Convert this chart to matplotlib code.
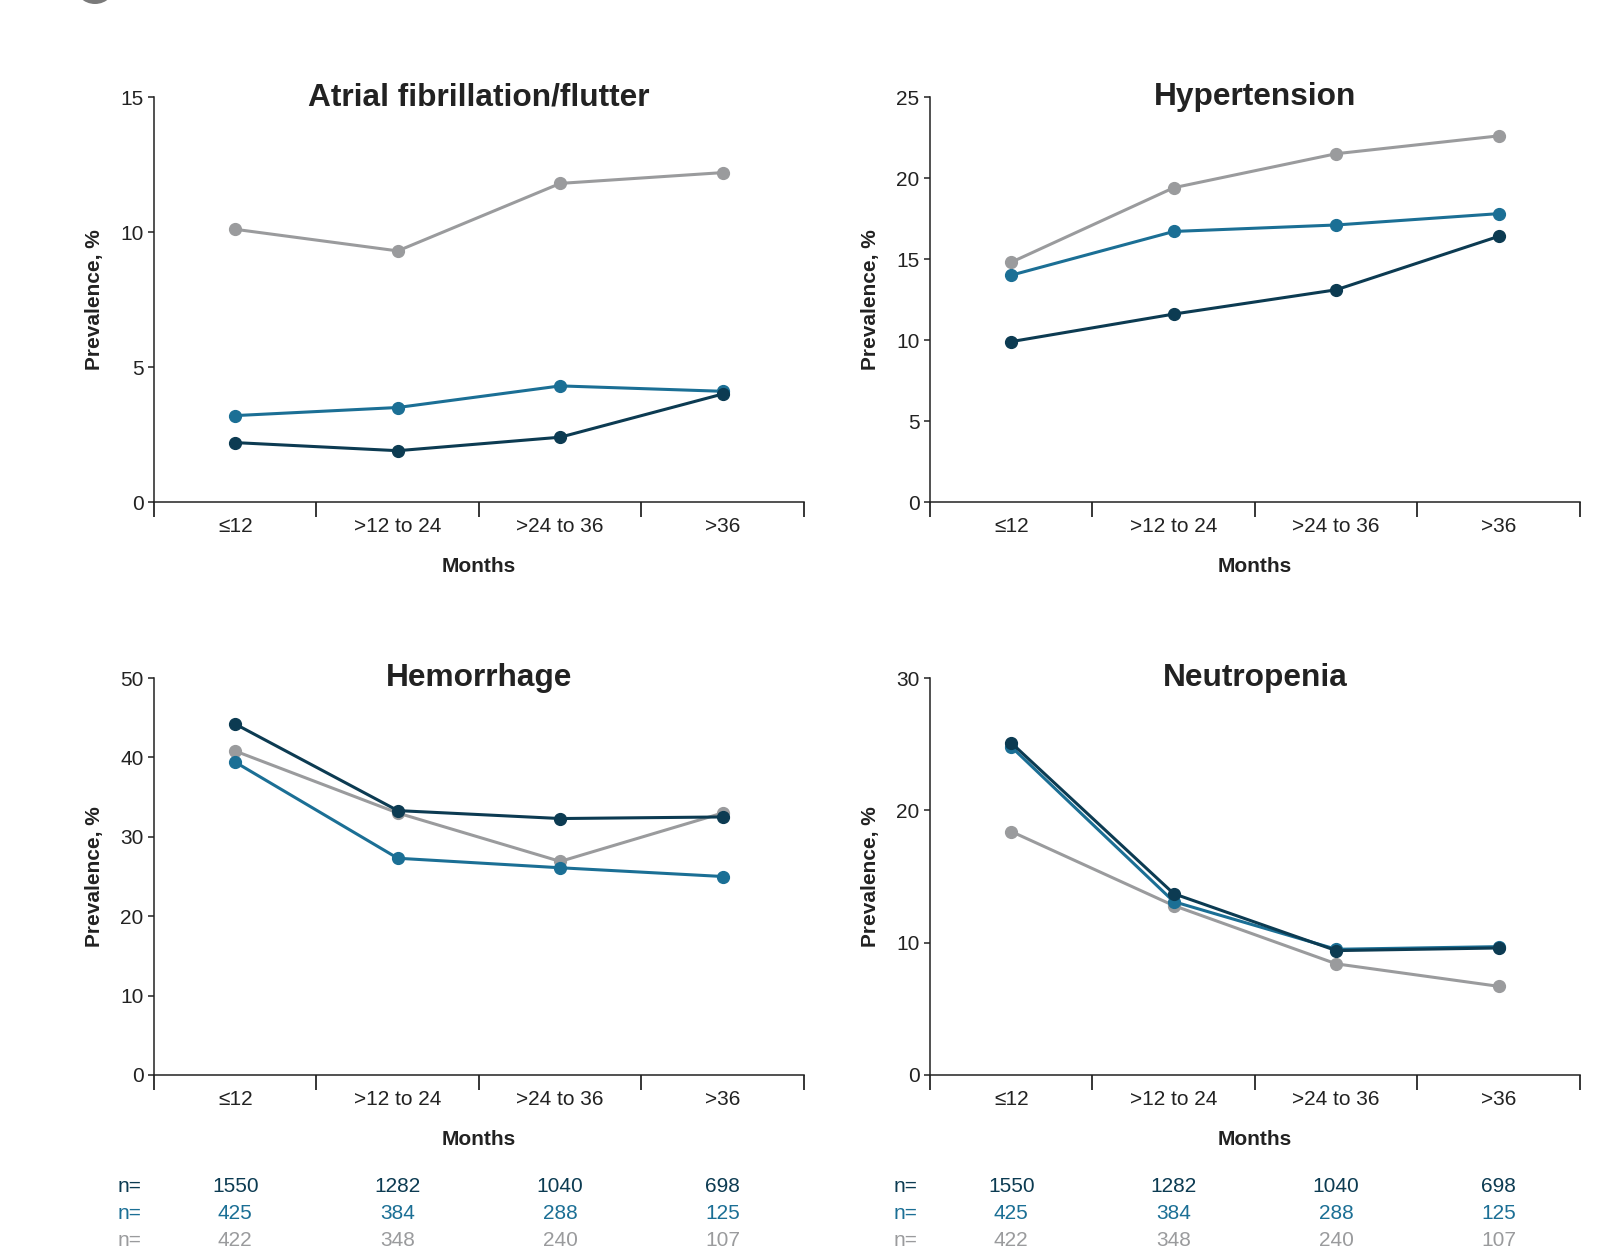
import matplotlib.pyplot as plt
from matplotlib.patches import Ellipse

plt.rcParams['font.family'] = ['Liberation Sans', 'DejaVu Sans']

# Categories and group colours
months = ['≤12', '>12 to 24', '>24 to 36', '>36']
c_dark = '#0c3b52'
c_blue = '#1b6f95'
c_gray = '#9a9b9d'

# Prevalence values (%)
af_dark = [2.2, 1.9, 2.4, 4.0]
af_blue = [3.2, 3.5, 4.3, 4.1]
af_gray = [10.1, 9.3, 11.8, 12.2]

htn_dark = [9.9, 11.6, 13.1, 16.4]
htn_blue = [14.0, 16.7, 17.1, 17.8]
htn_gray = [14.8, 19.4, 21.5, 22.6]

hem_dark = [44.2, 33.3, 32.3, 32.5]
hem_blue = [39.4, 27.3, 26.1, 25.0]
hem_gray = [40.8, 33.0, 26.9, 33.0]

neu_dark = [25.1, 13.7, 9.4, 9.6]
neu_blue = [24.8, 13.1, 9.5, 9.7]
neu_gray = [18.4, 12.8, 8.4, 6.7]

# numbers at risk
n_dark = [1550, 1282, 1040, 698]
n_blue = [425, 384, 288, 125]
n_gray = [422, 348, 240, 107]

W, H = 1606, 1257
fig = plt.figure(figsize=(W / 100, H / 100), dpi=100)


def px_axes(x0, x1, ytop, ybot):
    return fig.add_axes([x0 / W, 1 - ybot / H, (x1 - x0) / W, (ybot - ytop) / H])


panels = [
    ('Atrial fibrillation/flutter', af_dark, af_blue, af_gray, 15, 5, (154, 804, 97, 502)),
    ('Hypertension', htn_dark, htn_blue, htn_gray, 25, 5, (930, 1580, 97, 502)),
    ('Hemorrhage', hem_dark, hem_blue, hem_gray, 50, 10, (154, 804, 678, 1075)),
    ('Neutropenia', neu_dark, neu_blue, neu_gray, 30, 10, (930, 1580, 678, 1075)),
]

xpos = [0.5, 1.5, 2.5, 3.5]

for title, dark, blue, gray, ymax, ystep, box in panels:
    ax = px_axes(*box)
    for vals, col in [(gray, c_gray), (blue, c_blue), (dark, c_dark)]:
        ax.plot(xpos, vals, color=col, lw=2.2, marker='o', ms=8.5, zorder=3)
    ax.set_xlim(0, 4)
    ax.set_ylim(0, ymax)
    ax.set_yticks(range(0, ymax + 1, ystep))
    ax.set_xticks([0, 1, 2, 3, 4])
    ax.set_xticklabels([])
    ax.set_xticks(xpos, minor=True)
    ax.set_xticklabels(months, minor=True)
    ax.tick_params(axis='x', which='major', length=11, width=1.1, direction='out')
    ax.tick_params(axis='x', which='minor', length=0, pad=11, labelsize=15, colors='#222222')
    ax.tick_params(axis='y', length=4, width=1.1, labelsize=15, colors='#222222')
    for s in ['top', 'right']:
        ax.spines[s].set_visible(False)
    for s in ['left', 'bottom']:
        ax.spines[s].set_linewidth(1.1)
        ax.spines[s].set_color('#222222')
    ax.set_title(title, fontsize=22.8, fontweight='bold', color='#222222', pad=-6, y=1.0)
    ax.set_xlabel('Months', fontsize=15, fontweight='bold', color='#222222', labelpad=15)
    ax.set_ylabel('Prevalence, %', fontsize=15, fontweight='bold', color='#222222', labelpad=12)

    # numbers at risk under the bottom row
    if box[3] > 1000:
        for i, (nums, col) in enumerate([(n_dark, c_dark), (n_blue, c_blue), (n_gray, c_gray)]):
            ypix = 1186 + i * 27.5
            fig.text((box[0] - 36) / W, 1 - ypix / H, 'n=', color=col, fontsize=15,
                     ha='left', va='center')
            for xp, n in zip(xpos, nums):
                xfig = (box[0] + xp / 4 * (box[1] - box[0])) / W
                fig.text(xfig, 1 - ypix / H, str(n), color=col, fontsize=15,
                         ha='center', va='center')

# partial panel marker circle at the top-left edge
fig.patches.append(Ellipse((95 / W, 1 + 17 / H), 42 / W, 42 / H, transform=fig.transFigure,
                           facecolor='#7a7a7a', edgecolor='none'))

fig.savefig('out.png', dpi=100)
